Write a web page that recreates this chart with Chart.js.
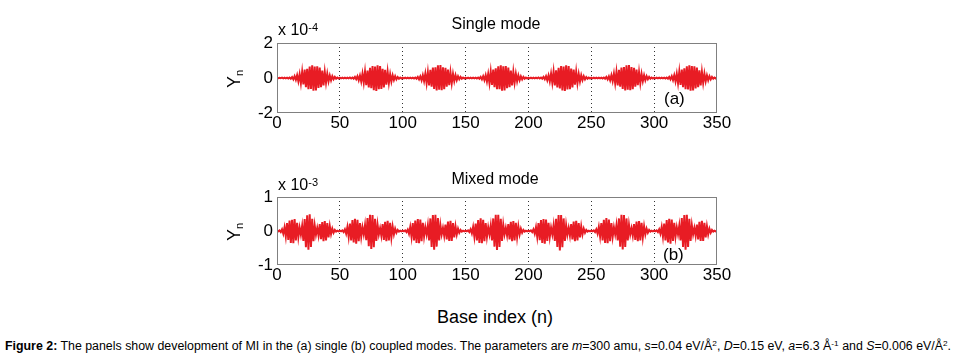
<!DOCTYPE html>
<html>
<head>
<meta charset="utf-8">
<script src="https://cdn.jsdelivr.net/npm/chart.js@4/dist/chart.umd.min.js"></script>
<style>
  body { margin: 0; width: 956px; height: 363px; overflow: hidden; position: relative; background: #fff;
         font-family: "Liberation Sans", Arial, sans-serif; color: #000; }
  canvas { position: absolute; left: 0; }
  .t { position: absolute; white-space: nowrap; line-height: 1; }
  .exp sup { font-size: 11px; vertical-align: 4px; line-height: 0; }
  .title { font-size: 16px; transform: translateX(-50%); }
  .ylab { font-size: 18px; transform: translate(-50%, -50%) rotate(-90deg); }
  .ylab sub { font-size: 11px; vertical-align: -3px; line-height: 0; }
  #caption { font-size: 12px; transform-origin: 0 0; }
  #caption sup { font-size: 8px; vertical-align: 4px; line-height: 0; }
</style>
</head>
<body>
<canvas id="single" width="956" height="135" style="top:0"></canvas>
<canvas id="mixed" width="956" height="135" style="top:154px"></canvas>

<div class="t exp" style="left:278px; top:22px; font-size:16px">x 10<sup>-4</sup></div>
<div class="t title" style="left:496px; top:16px">Single mode</div>
<div class="t" style="left:664px; top:90px; font-size:17px">(a)</div>
<div class="t ylab" style="left:234px; top:79px">Y<sub>n</sub></div>

<div class="t exp" style="left:278px; top:177px; font-size:16px">x 10<sup>-3</sup></div>
<div class="t title" style="left:495px; top:171px">Mixed mode</div>
<div class="t" style="left:663px; top:246px; font-size:17px">(b)</div>
<div class="t ylab" style="left:234px; top:232px">Y<sub>n</sub></div>

<div class="t" style="left:437px; top:308px; font-size:18px">Base index (n)</div>
<div class="t" id="caption"><b>Figure 2:</b> The panels show development of MI in the (a) single (b) coupled modes. The parameters are <i>m</i>=300 amu, <i>s</i>=0.04 eV/Å<sup>2</sup>, <i>D</i>=0.15 eV, <i>a</i>=6.3 Å<sup>-1</sup> and <i>S</i>=0.006 eV/Å<sup>2</sup>.</div>

<script>
// Y_n per base index n = 0..350
// single mode, in units of 1e-6 (axis shows x 10^-4)
const singleMode = [
  0,-1,1,-1,
  2,-2,2,-2,2,-3,3,-4,5,-8,10,-11,16,-19,22,-30,35,-37,48,-52,53,-64,66,-62,73,-72,66,-71,67,-57,59,-52,42,-42,35,-27,25,-19,14,-13,10,-7,6,-4,3,-3,2,-2,2,-2,
  2,-2,2,-2,3,-3,3,-4,6,-7,10,-13,14,-20,25,-27,36,-41,43,-54,58,-58,68,-70,65,-74,72,-64,68,-63,53,-54,47,-38,36,-29,22,-20,15,-12,10,-8,5,-4,3,-3,2,-2,2,-2,
  2,-2,2,-2,2,-3,3,-4,6,-8,9,-13,16,-18,25,-30,33,-42,47,-49,59,-63,61,-71,72,-67,74,-70,61,-64,58,-49,48,-41,32,-30,24,-18,16,-12,10,-7,6,-4,3,-3,2,-2,2,-2,
  2,-2,2,-2,2,-3,3,-4,6,-8,10,-12,16,-20,23,-30,36,-39,48,-53,55,-64,67,-64,73,-73,67,-71,68,-58,59,-53,43,-42,35,-27,25,-19,15,-13,9,-8,6,-4,3,-3,2,-2,2,-2,
  2,-2,2,-2,3,-3,3,-4,6,-7,10,-13,15,-20,25,-28,36,-42,44,-54,58,-59,68,-71,66,-74,73,-65,68,-64,54,-54,48,-38,36,-30,22,-20,16,-12,10,-8,5,-4,3,-3,2,-2,2,-2,
  2,-2,2,-2,2,-3,3,-4,6,-8,9,-13,16,-18,25,-30,34,-42,47,-50,59,-63,62,-71,73,-67,74,-70,62,-64,58,-50,48,-41,33,-30,24,-18,16,-13,10,-7,6,-4,3,-3,2,-2,2,-2,
  2,-2,2,-2,2,-3,3,-4,6,-8,10,-12,16,-20,24,-30,36,-40,48,-53,56,-64,67,-65,73,-73,68,-71,67,-59,59,-53,44,-42,35,-28,25,-19,15,-13,10,-8,6,-4,3,-3,2
];

// mixed mode, in units of 1e-5 (axis shows x 10^-3)
const mixedMode = [
  0,-1,2,-3,5,-8,11,-16,23,-26,31,-35,33,-36,35,-28,24,-18,10,-11,15,-29,35,-48,46,-55,49,-47,36,-30,16,-11,9,-13,20,-24,26,-30,29,-28,23,-19,14,-9,7,-5,3,-2,1,-1,
  1,-1,2,-3,5,-8,12,-17,22,-28,32,-34,36,-37,33,-30,23,-17,11,-10,17,-27,38,-45,48,-53,47,-48,36,-29,18,-10,8,-14,20,-26,27,-30,30,-28,24,-19,13,-10,7,-5,3,-2,1,-1,
  1,-1,2,-3,4,-8,12,-17,23,-28,31,-35,35,-36,34,-30,24,-16,11,-10,17,-28,37,-47,47,-55,48,-46,38,-28,17,-10,9,-14,19,-25,28,-29,30,-29,23,-19,14,-10,7,-5,3,-2,1,-1,
  1,-1,2,-3,5,-7,12,-17,22,-28,32,-35,37,-36,33,-30,23,-17,11,-10,16,-28,37,-46,48,-56,48,-47,36,-29,18,-10,9,-13,20,-25,27,-30,29,-28,24,-18,14,-10,7,-5,3,-2,1,-1,
  1,-1,2,-3,5,-8,11,-17,23,-27,32,-35,35,-37,34,-29,24,-17,10,-10,17,-29,36,-47,47,-57,47,-48,37,-29,17,-11,9,-14,20,-25,28,-30,30,-28,23,-19,14,-10,7,-5,3,-2,1,-1,
  1,-1,2,-3,5,-8,12,-16,23,-28,33,-35,38,-36,34,-30,23,-17,11,-10,17,-28,37,-46,48,-54,47,-47,37,-28,18,-10,8,-14,20,-26,28,-30,29,-28,24,-18,14,-10,7,-5,3,-2,1,-1,
  1,-1,2,-3,5,-8,12,-17,22,-28,32,-34,36,-37,34,-29,24,-17,11,-10,16,-28,38,-47,47,-55,48,-47,36,-29,17,-10,9,-14,19,-25,27,-29,30,-29,24,-19,14,-10,7,-5,3,-2,1,-1,
  0
];

const xTicks = [0, 50, 100, 150, 200, 250, 300, 350];
const singleTicks = [-2, 0, 2];
const mixedTicks = [-1, 0, 1];

const RED = 'rgb(232,28,36)';
const tickFont = { family: '"Liberation Sans", Arial, sans-serif', size: 17 };

// gray box round the plot area, like matlab axes
const frame = {
  id: 'frame',
  afterDraw(chart) {
    const {ctx, chartArea: a} = chart;
    ctx.save();
    ctx.strokeStyle = '#808080';
    ctx.lineWidth = 1;
    ctx.strokeRect(Math.round(a.left) + 0.5, Math.round(a.top) + 0.5, Math.round(a.width) - 1, Math.round(a.height) - 1);
    ctx.restore();
  }
};

function panel(id, values, yTicks, area) {
  const pts = values.map((v, n) => ({x: n, y: v / 100}));
  return new Chart(document.getElementById(id), {
    type: 'line',
    data: {
      datasets: [{
        data: pts,
        borderColor: RED,
        borderWidth: 2,
        pointRadius: 0,
        tension: 0,
        fill: false
      }]
    },
    options: {
      responsive: false,
      animation: false,
      devicePixelRatio: 1,
      layout: { padding: { left: 237, right: 239, top: area.top, bottom: 0 } },
      plugins: { legend: { display: false }, tooltip: { enabled: false } },
      scales: {
        x: {
          type: 'linear',
          min: 0, max: 350,
          afterBuildTicks: s => { s.ticks = xTicks.map(v => ({value: v})); },
          afterFit: s => { s.height = area.xh; },
          ticks: { color: '#000', font: tickFont, padding: 0, maxRotation: 0, autoSkip: false },
          grid: {
            drawTicks: false,
            lineWidth: 1,
            color: c => (c.tick && (c.tick.value === 0 || c.tick.value === 350)) ? 'rgba(0,0,0,0)' : '#333'
          },
          border: { display: false, dash: [1, 3] }
        },
        y: {
          min: yTicks[0], max: yTicks[yTicks.length - 1],
          afterBuildTicks: s => { s.ticks = yTicks.map(v => ({value: v})); },
          afterFit: s => { s.width = 40; },
          ticks: { color: '#000', font: tickFont, padding: 4 },
          grid: { display: false, drawTicks: false },
          border: { display: false }
        }
      }
    },
    plugins: [frame]
  });
}

panel('single', singleMode, singleTicks, { top: 43, xh: 22 });
panel('mixed', mixedMode, mixedTicks, { top: 43, xh: 24 });

// stretch the caption line to the width it has in the figure
const cap = document.getElementById('caption');
cap.style.left = '5px';
cap.style.top = '340px';
const w = cap.getBoundingClientRect().width;
cap.style.transform = 'scaleX(' + (946 / w) + ')';
</script>
</body>
</html>
